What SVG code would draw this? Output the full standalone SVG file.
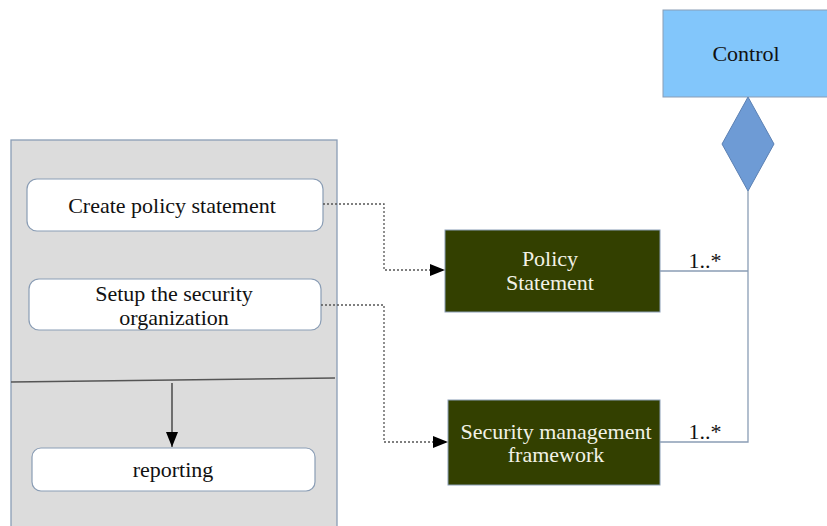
<svg xmlns="http://www.w3.org/2000/svg" width="827" height="526" viewBox="0 0 827 526">
<style>
text{font-family:"Liberation Serif","Times New Roman",serif;font-size:22px;text-anchor:middle;fill:#111}
.act{fill:#ffffff;stroke:#8a9db5;stroke-width:1.2}
.cls{fill:#334000;stroke:#8a9db5;stroke-width:1}
text.lt{fill:#f2f2e6}
.dot{fill:none;stroke:#555;stroke-width:1.3;stroke-dasharray:2 2}
.assoc{fill:none;stroke:#8a9db5;stroke-width:1.3}
</style>
<defs>
<marker id="ah" viewBox="0 0 10 10" refX="10" refY="5" markerWidth="15" markerHeight="15" markerUnits="userSpaceOnUse" orient="auto">
<path d="M0,1 L10,5 L0,9 Z" fill="#000"/>
</marker>
</defs>
<g id="panel">
<rect x="11" y="140" width="326" height="400" fill="#dcdcdc" stroke="#8a9db5" stroke-width="1.3"/>
<line x1="11" y1="382" x2="335" y2="378" stroke="#555" stroke-width="1.3"/>
</g>
<g id="create">
<rect class="act" x="27" y="179" width="296" height="52" rx="10"/>
<text x="172" y="213">Create policy statement</text>
</g>
<g id="setup">
<rect class="act" x="29" y="279" width="292" height="51" rx="10"/>
<text x="174" y="301">Setup the security</text>
<text x="174" y="325">organization</text>
</g>
<g id="reporting">
<rect class="act" x="32" y="448" width="283" height="43" rx="9"/>
<text x="173" y="477">reporting</text>
</g>
<g id="policy">
<rect class="cls" x="445" y="230" width="215" height="82"/>
<text class="lt" x="550" y="266">Policy</text>
<text class="lt" x="550" y="290">Statement</text>
</g>
<g id="framework">
<rect class="cls" x="448" y="400" width="212" height="85"/>
<text class="lt" x="556" y="439">Security management</text>
<text class="lt" x="556" y="462">framework</text>
</g>
<g id="control">
<rect x="663" y="10" width="170" height="87" fill="#82c6fb" stroke="#8a9db5" stroke-width="1"/>
<text x="746" y="61">Control</text>
</g>
<g id="connectors">
<line x1="172" y1="383" x2="172" y2="447" stroke="#333" stroke-width="1.3" marker-end="url(#ah)"/>
<polyline class="dot" points="323,204 384,204 384,270 445,270" marker-end="url(#ah)"/>
<polyline class="dot" points="321,305 384,305 384,442 448,442" marker-end="url(#ah)"/>
<polygon points="748,97 774,144 748,191 722,144" fill="#6e9bd5" stroke="#5b80b3" stroke-width="1"/>
<polyline class="assoc" points="660,271 748,271"/>
<polyline class="assoc" points="660,442 748,442 748,191"/>
<text x="705" y="268">1..*</text>
<text x="705" y="439">1..*</text>
</g>
</svg>
